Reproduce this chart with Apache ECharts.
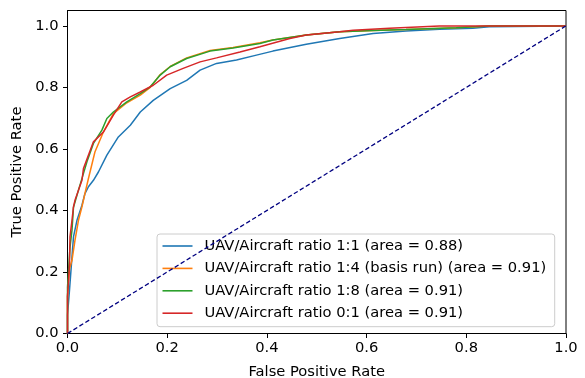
<!DOCTYPE html>
<html>
<head>
<meta charset="utf-8">
<script src="https://cdn.jsdelivr.net/npm/echarts@6/dist/echarts.min.js"></script>
<style>
  html, body { margin: 0; padding: 0; background: #fff; }
  #chart { width: 585px; height: 378px; }
</style>
</head>
<body>
<div id="chart"></div>
<script>
// ROC curves: false positive rate vs. true positive rate per training ratio
const seriesNames = [
  'UAV/Aircraft ratio 1:1 (area = 0.88)',
  'UAV/Aircraft ratio 1:4 (basis run) (area = 0.91)',
  'UAV/Aircraft ratio 1:8 (area = 0.91)',
  'UAV/Aircraft ratio 0:1 (area = 0.91)'
];
const seriesColors = ['#1f77b4', '#ff7f0e', '#2ca02c', '#d62728'];

const fpr11 = [0, 0.0, 0.004, 0.009, 0.012, 0.019, 0.029, 0.035, 0.042, 0.052, 0.062, 0.079, 0.102, 0.126, 0.146, 0.172, 0.206, 0.239, 0.266, 0.299, 0.339, 0.379, 0.412, 0.479, 0.546, 0.613, 0.679, 0.746, 0.813, 0.846, 1.0];
const tpr11 = [0, 0.06, 0.141, 0.249, 0.314, 0.368, 0.417, 0.455, 0.477, 0.498, 0.525, 0.580, 0.639, 0.677, 0.720, 0.758, 0.796, 0.823, 0.856, 0.878, 0.889, 0.905, 0.918, 0.940, 0.959, 0.975, 0.983, 0.989, 0.992, 0.997, 1.0];

const fpr14 = [0, 0.0, 0.004, 0.009, 0.015, 0.022, 0.029, 0.035, 0.042, 0.055, 0.072, 0.092, 0.119, 0.146, 0.166, 0.186, 0.206, 0.239, 0.286, 0.332, 0.386, 0.412, 0.479, 0.546, 0.613, 0.679, 0.78, 0.846, 1.0];
const tpr14 = [0, 0.12, 0.21, 0.238, 0.303, 0.368, 0.412, 0.455, 0.504, 0.590, 0.655, 0.715, 0.750, 0.775, 0.800, 0.842, 0.868, 0.896, 0.920, 0.930, 0.945, 0.954, 0.970, 0.981, 0.985, 0.988, 0.994, 1.0, 1.0];

const fpr18 = [0, 0.0, 0.005, 0.009, 0.012, 0.022, 0.039, 0.052, 0.069, 0.079, 0.092, 0.119, 0.146, 0.166, 0.186, 0.206, 0.239, 0.286, 0.332, 0.386, 0.412, 0.479, 0.546, 0.613, 0.679, 0.78, 0.846, 1.0];
const tpr18 = [0, 0.15, 0.28, 0.336, 0.41, 0.466, 0.558, 0.618, 0.661, 0.699, 0.720, 0.753, 0.780, 0.802, 0.840, 0.867, 0.894, 0.918, 0.928, 0.943, 0.954, 0.970, 0.981, 0.985, 0.988, 0.994, 1.0, 1.0];

const fpr01 = [0, 0.0, 0.004, 0.005, 0.009, 0.012, 0.015, 0.029, 0.032, 0.052, 0.072, 0.092, 0.109, 0.126, 0.146, 0.172, 0.199, 0.232, 0.266, 0.299, 0.346, 0.386, 0.446, 0.479, 0.546, 0.573, 0.646, 0.746, 1.0];
const tpr01 = [0, 0.12, 0.228, 0.314, 0.368, 0.412, 0.433, 0.498, 0.536, 0.623, 0.655, 0.710, 0.753, 0.769, 0.785, 0.807, 0.840, 0.862, 0.883, 0.896, 0.915, 0.932, 0.959, 0.970, 0.981, 0.986, 0.992, 1.0, 1.0];

// chance line
const chanceX = [0, 1];
const chanceY = [0, 1];

const tickValues = [0, 0.2, 0.4, 0.6, 0.8, 1.0];

const curves = [[fpr11, tpr11], [fpr14, tpr14], [fpr18, tpr18], [fpr01, tpr01]];
const zip = (xs, ys) => xs.map((x, i) => [x, ys[i]]);

const FONT = 'DejaVu Sans';
const FS = 14.7;
const axisCommon = {
  type: 'value',
  min: 0,
  nameLocation: 'middle',
  nameTextStyle: { fontFamily: FONT, fontSize: FS, color: '#000' },
  splitLine: { show: false },
  axisLine: { show: true, onZero: false, lineStyle: { color: '#000', width: 1 } },
  axisTick: { show: true, length: 4.5, customValues: tickValues, lineStyle: { color: '#000', width: 1 } },
  axisLabel: {
    customValues: tickValues,
    fontFamily: FONT, fontSize: FS, color: '#000',
    formatter: v => v.toFixed(1)
  }
};

const chart = echarts.init(document.getElementById('chart'), null, { renderer: 'canvas' });
chart.setOption({
  animation: false,
  backgroundColor: '#fff',
  grid: {
    left: 67.5, top: 10.5, right: 19, bottom: 44.5,
    outerBoundsMode: 'none',
    show: true, borderColor: '#000', borderWidth: 1, backgroundColor: 'transparent'
  },
  xAxis: Object.assign({}, axisCommon, {
    max: 1,
    name: 'False Positive Rate',
    nameGap: 31,
    axisLabel: Object.assign({}, axisCommon.axisLabel, { margin: 7 })
  }),
  yAxis: Object.assign({}, axisCommon, {
    max: 1.05,
    name: 'True Positive Rate',
    nameGap: 37,
    axisLabel: Object.assign({}, axisCommon.axisLabel, { margin: 9 })
  }),
  legend: {
    orient: 'vertical',
    left: 157,
    top: 234,
    data: seriesNames,
    icon: 'rect',
    backgroundColor: 'rgba(255,255,255,0.8)',
    borderColor: '#cccccc',
    borderWidth: 1,
    borderRadius: 3,
    padding: [4, 8.5, 5.5, 5.5],
    itemWidth: 30,
    itemHeight: 1.6,
    itemGap: 6.4,
    textStyle: { fontFamily: FONT, fontSize: FS, lineHeight: 16, color: '#000', padding: [0, 0, 0, 7] }
  },
  series: curves.map((c, i) => ({
    name: seriesNames[i],
    type: 'line',
    data: zip(c[0], c[1]),
    symbol: 'none',
    color: seriesColors[i],
    lineStyle: { width: 1.5, color: seriesColors[i] },
    z: 2 + i
  })).concat([{
    name: 'chance',
    type: 'line',
    data: zip(chanceX, chanceY),
    symbol: 'none',
    lineStyle: { width: 1.3, color: '#000080', type: [4.5, 2.5] },
    z: 10
  }])
});
</script>
</body>
</html>
